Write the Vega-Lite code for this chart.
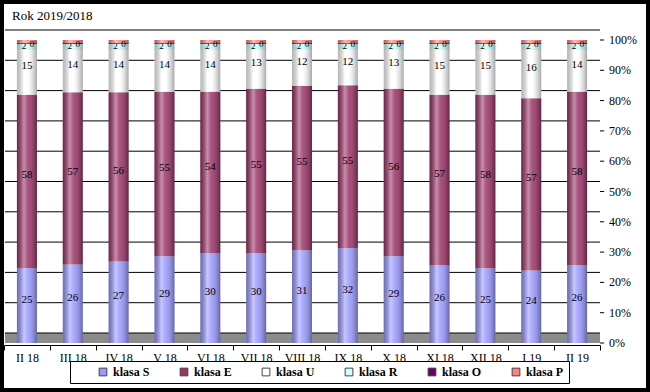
{
  "$schema": "https://vega.github.io/schema/vega-lite/v6.json",
  "width": 650,
  "height": 392,
  "autosize": {"type": "none"},
  "padding": 0,
  "background": "white",
  "title": {"text": "Rok 2019/2018", "anchor": "start", "frame": "group", "orient": "top", "offset": -23, "dx": 12, "font": "Liberation Serif", "fontSize": 13, "fontWeight": "normal", "color": "black"},
  "config": {
    "view": {"stroke": "black", "strokeWidth": 8},
    "axis": {"labelFont": "Liberation Serif", "labelFontSize": 12, "labelColor": "black", "domainColor": "black", "tickColor": "black", "grid": false, "title": null, "labelOverlap": false}
  },
  "datasets": {
    "classes": [
      {"key": "klasa S", "rank": 1},
      {"key": "klasa E", "rank": 2},
      {"key": "klasa U", "rank": 3},
      {"key": "klasa R", "rank": 4},
      {"key": "klasa O", "rank": 5},
      {"key": "klasa P", "rank": 6}
    ],
    "months": [
      {"m": "II 18", "klasa S": 25, "klasa E": 58, "klasa U": 15, "klasa R": 2, "klasa O": 0.3, "klasa P": 1},
      {"m": "III 18", "klasa S": 26, "klasa E": 57, "klasa U": 14, "klasa R": 2, "klasa O": 0.3, "klasa P": 1},
      {"m": "IV 18", "klasa S": 27, "klasa E": 56, "klasa U": 14, "klasa R": 2, "klasa O": 0.3, "klasa P": 1},
      {"m": "V 18", "klasa S": 29, "klasa E": 55, "klasa U": 14, "klasa R": 2, "klasa O": 0.3, "klasa P": 1},
      {"m": "VI 18", "klasa S": 30, "klasa E": 54, "klasa U": 14, "klasa R": 2, "klasa O": 0.3, "klasa P": 1},
      {"m": "VII 18", "klasa S": 30, "klasa E": 55, "klasa U": 13, "klasa R": 2, "klasa O": 0.3, "klasa P": 1},
      {"m": "VIII 18", "klasa S": 31, "klasa E": 55, "klasa U": 12, "klasa R": 2, "klasa O": 0.3, "klasa P": 1},
      {"m": "IX 18", "klasa S": 32, "klasa E": 55, "klasa U": 12, "klasa R": 2, "klasa O": 0.3, "klasa P": 1},
      {"m": "X 18", "klasa S": 29, "klasa E": 56, "klasa U": 13, "klasa R": 2, "klasa O": 0.3, "klasa P": 1},
      {"m": "XI 18", "klasa S": 26, "klasa E": 57, "klasa U": 15, "klasa R": 2, "klasa O": 0.3, "klasa P": 1},
      {"m": "XII 18", "klasa S": 25, "klasa E": 58, "klasa U": 15, "klasa R": 2, "klasa O": 0.3, "klasa P": 1},
      {"m": "I 19", "klasa S": 24, "klasa E": 57, "klasa U": 16, "klasa R": 2, "klasa O": 0.3, "klasa P": 1},
      {"m": "II 19", "klasa S": 26, "klasa E": 58, "klasa U": 14, "klasa R": 2, "klasa O": 0.3, "klasa P": 1}
    ],
    "grid": [
      {"t": 0}, {"t": 0.1}, {"t": 0.2}, {"t": 0.3}, {"t": 0.4}, {"t": 0.5},
      {"t": 0.6}, {"t": 0.7}, {"t": 0.8}, {"t": 0.9}, {"t": 1}
    ]
  },
  "resolve": {"scale": {"x": "independent"}, "axis": {"y": "independent"}},
  "layer": [
    {
      "data": {"values": [{"f": 1}]},
      "mark": {"type": "rect", "color": "#8c8c8c"},
      "encoding": {
        "x": {"datum": 0, "type": "quantitative", "scale": {"domain": [0, 1], "range": [5, 600]}, "axis": null},
        "x2": {"datum": 1},
        "y": {"datum": 0, "type": "quantitative", "scale": {"domain": [0, 1], "range": [343, 40]}, "axis": null},
        "y2": {"datum": 0.033}
      }
    },
    {
      "data": {"name": "grid"},
      "mark": {"type": "rule", "color": "black", "strokeWidth": 1, "yOffset": -10},
      "encoding": {
        "x": {"datum": 0, "type": "quantitative", "scale": {"domain": [0, 1], "range": [5, 600]}, "axis": null},
        "x2": {"datum": 1},
        "y": {"field": "t", "type": "quantitative", "axis": null}
      }
    },
    {
      "data": {"name": "grid"},
      "mark": {"type": "rule", "color": "black", "strokeWidth": 1},
      "encoding": {
        "x": {"datum": 1, "type": "quantitative", "scale": {"domain": [0, 1], "range": [5, 600]}, "axis": null},
        "x2": {"datum": 1.007},
        "y": {"field": "t", "type": "quantitative", "axis": null}
      }
    },
    {
      "data": {"name": "grid"},
      "mark": {"type": "text", "font": "Liberation Serif", "fontSize": 12, "color": "black", "align": "left", "baseline": "middle", "dx": 9},
      "encoding": {
        "x": {"datum": 1, "type": "quantitative", "scale": {"domain": [0, 1], "range": [5, 600]}, "axis": null},
        "y": {"field": "t", "type": "quantitative", "axis": null},
        "text": {"field": "t", "type": "quantitative", "format": ".0%"}
      }
    },
    {
      "data": {"name": "months"},
      "transform": [
        {"fold": ["klasa S", "klasa E", "klasa U", "klasa R", "klasa O", "klasa P"], "as": ["key", "value"]},
        {"lookup": "key", "from": {"data": {"name": "classes"}, "key": "key", "fields": ["rank"]}},
        {"stack": "value", "groupby": ["m"], "sort": [{"field": "rank", "order": "ascending"}], "offset": "normalize", "as": ["y0", "y1"]},
        {"calculate": "(datum.y0 + datum.y1) / 2", "as": "ymid"}
      ],
      "encoding": {
        "x": {
          "field": "m", "type": "ordinal",
          "sort": ["II 18", "III 18", "IV 18", "V 18", "VI 18", "VII 18", "VIII 18", "IX 18", "X 18", "XI 18", "XII 18", "I 19", "II 19"],
          "scale": {"range": [4, 600], "padding": 0},
          "axis": {"orient": "bottom", "offset": -47, "labelAngle": 0, "tickBand": "extent", "tickSize": 5, "labelPadding": 2}
        }
      },
      "layer": [
        {
          "mark": {"type": "bar", "width": 20},
          "encoding": {
            "y": {"field": "y0", "type": "quantitative",
                  "axis": {"orient": "right", "offset": -50, "labels": false, "ticks": false}},
            "y2": {"field": "y1"},
            "color": {
              "field": "key", "type": "nominal",
              "scale": {"domain": ["klasa S", "klasa E", "klasa U", "klasa R", "klasa O", "klasa P"],
                        "range": ["#9999FF", "#993366", "#FFFFFF", "#CCFFFF", "#660066", "#FF8080"]},
              "legend": {
                "orient": "none", "legendX": 70, "legendY": 361, "direction": "horizontal", "columns": 6,
                "title": null, "strokeColor": "black", "fillColor": "white", "padding": 5,
                "symbolType": "square", "symbolSize": 60, "symbolStrokeColor": "#444", "symbolStrokeWidth": 1,
                "symbolOffset": 22, "columnPadding": 6,
                "labelFont": "Liberation Serif", "labelFontSize": 12, "labelFontWeight": "bold", "labelColor": "black"
              }
            }
          }
        },
        {
          "transform": [{"filter": "datum.key === 'klasa S'"}],
          "mark": {"type": "bar", "width": 20, "fill": {"gradient": "linear", "x1": 0, "x2": 1, "y1": 0, "y2": 0,
            "stops": [
              {"offset": 0, "color": "rgba(0,0,0,0.28)"},
              {"offset": 0.35, "color": "rgba(255,255,255,0.45)"},
              {"offset": 0.55, "color": "rgba(255,255,255,0.15)"},
              {"offset": 1, "color": "rgba(0,0,0,0.35)"}
            ]}},
          "encoding": {
            "y": {"datum": 0, "type": "quantitative", "axis": null},
            "y2": {"datum": 1}
          }
        },
        {
          "transform": [{"filter": {"field": "key", "oneOf": ["klasa S", "klasa E", "klasa U"]}}],
          "mark": {"type": "text", "font": "Liberation Serif", "fontSize": 11, "color": "black", "dy": -6},
          "encoding": {
            "y": {"field": "ymid", "type": "quantitative", "axis": null},
            "text": {"field": "value", "type": "quantitative"}
          }
        },
        {
          "transform": [{"filter": "datum.key === 'klasa R'"}],
          "mark": {"type": "text", "font": "Liberation Serif", "fontSize": 9, "color": "black", "dx": -3, "dy": -1},
          "encoding": {
            "y": {"field": "ymid", "type": "quantitative", "axis": null},
            "text": {"field": "value", "type": "quantitative", "format": ".0f"}
          }
        },
        {
          "transform": [{"filter": "datum.key === 'klasa O'"}],
          "mark": {"type": "text", "font": "Liberation Serif", "fontSize": 9, "color": "black", "dx": 5, "dy": 1},
          "encoding": {
            "y": {"field": "ymid", "type": "quantitative", "axis": null},
            "text": {"field": "value", "type": "quantitative", "format": ".0f"}
          }
        }
      ]
    }
  ]
}
